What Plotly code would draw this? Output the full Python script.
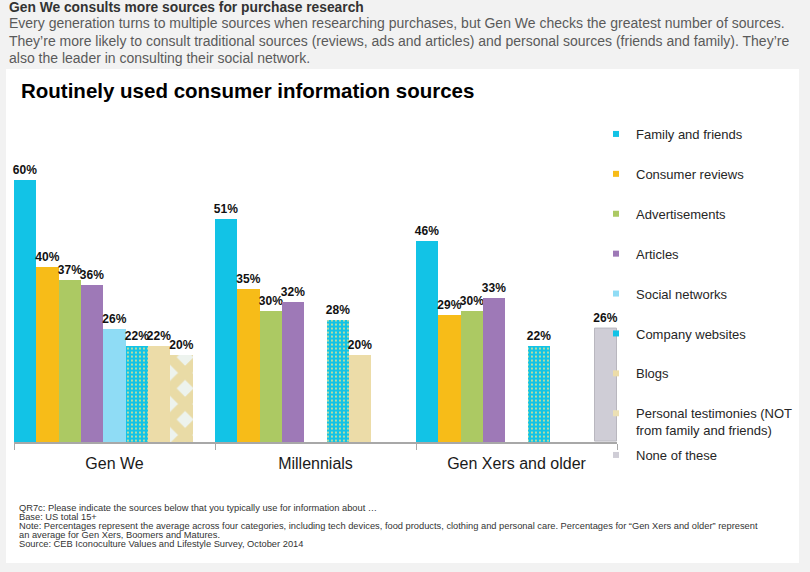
import plotly.graph_objects as go

W, H = 810, 572

categories = ["Gen We", "Millennials", "Gen Xers and older"]

series_names = [
    "Family and friends",
    "Consumer reviews",
    "Advertisements",
    "Articles",
    "Social networks",
    "Company websites",
    "Blogs",
    "Personal testimonies (NOT<br>from family and friends)",
    "None of these",
]

family_friends = [60, 51, 46]
consumer_reviews = [40, 35, 29]
advertisements = [37, 30, 30]
articles = [36, 32, 33]
social_networks = [26, None, None]
company_websites = [22, 28, 22]
blogs = [22, 20, None]
personal_testimonies = [20, None, None]
none_of_these = [None, None, 26]

series_values = [
    family_friends, consumer_reviews, advertisements, articles,
    social_networks, company_websites, blogs, personal_testimonies, none_of_these,
]

colors = ["#12c3e6", "#f7bc18", "#acc963", "#9e79b7", "#8fdcf5",
          "#12c3e6", "#ecdca8", "#ece0b4", "#cfcdd6"]

header_bold = "Gen We consults more sources for purchase research"
header_lines = [
    "Every generation turns to multiple sources when researching purchases, but Gen We checks the greatest number of sources.",
    "They’re more likely to consult traditional sources (reviews, ads and articles) and personal sources (friends and family). They’re",
    "also the leader in consulting their social network.",
]
chart_title = "Routinely used consumer information sources"
footnotes = [
    "QR7c: Please indicate the sources below that you typically use for information about …",
    "Base: US total 15+",
    "Note: Percentages represent the average across four categories, including tech devices, food products, clothing and personal care. Percentages for “Gen Xers and older” represent",
    "an average for Gen Xers, Boomers and Matures.",
    "Source: CEB Iconoculture Values and Lifestyle Survey, October 2014",
]

FONT = "Liberation Sans, Arial, sans-serif"

def py(p):
    return (H - p) / H

def px(p):
    return p / W

fig = go.Figure()

for i, (name, vals) in enumerate(zip(series_names, series_values)):
    marker = dict(color=colors[i], line=dict(width=0))
    if name == "Company websites":
        marker["pattern"] = dict(shape=".", fgcolor="#f3e48a", bgcolor="#12c3e6",
                                 size=4, solidity=0.18, fillmode="replace")
    elif name.startswith("Personal"):
        marker["pattern"] = dict(shape="x", fgcolor="#e9dba6", bgcolor="#edf3ee",
                                 size=22, solidity=0.7, fillmode="replace")
    elif name == "None of these":
        marker["line"] = dict(width=1, color="#b9b7bf")
    fig.add_trace(go.Bar(
        x=categories, y=vals, name=name, marker=marker,
        texttemplate="%{y}%", textposition="outside",
        textfont=dict(family=FONT, size=12, color="#111111", weight="bold"),
        constraintext="none", cliponaxis=False, showlegend=False,
        hoverinfo="skip",
    ))
    # legend entry (small square swatch)
    fig.add_trace(go.Scatter(
        x=[None], y=[None], mode="markers", name=name,
        marker=dict(symbol="square", size=6, color=colors[i]),
        legendgroup=f"g{i}",
        legend="legend2" if name == "None of these" else "legend",
        showlegend=True, hoverinfo="skip",
    ))

annotations = []
annotations.append(dict(text=f"<b>{header_bold}</b>", x=px(7), y=py(8), xref="paper", yref="paper",
                        xanchor="left", yanchor="middle", showarrow=False,
                        font=dict(family=FONT, size=13.8, color="#333333")))
for k, line in enumerate(header_lines):
    annotations.append(dict(text=line, x=px(7), y=py(23 + 17.5 * k), xref="paper", yref="paper",
                            xanchor="left", yanchor="middle", showarrow=False,
                            font=dict(family=FONT, size=14.0, color="#5a5a5a")))
annotations.append(dict(text=f"<b>{chart_title}</b>", x=px(19), y=py(91), xref="paper", yref="paper",
                        xanchor="left", yanchor="middle", showarrow=False,
                        font=dict(family=FONT, size=20.5, color="#000000")))
for k, line in enumerate(footnotes):
    annotations.append(dict(text=line, x=px(17), y=py(508 + 9 * k), xref="paper", yref="paper",
                            xanchor="left", yanchor="middle", showarrow=False,
                            font=dict(family=FONT, size=9.3, color="#333333")))

fig.update_layout(
    width=W, height=H, autosize=False,
    margin=dict(l=0, r=0, t=0, b=0, pad=0),
    paper_bgcolor="#f2f2f2", plot_bgcolor="rgba(0,0,0,0)",
    barmode="group", bargap=0, bargroupgap=0,
    font=dict(family=FONT),
    shapes=[dict(type="rect", xref="paper", yref="paper", layer="below",
                 x0=px(6), x1=px(799), y0=py(563), y1=py(69),
                 fillcolor="#ffffff", line=dict(width=0))],
    annotations=annotations,
    xaxis=dict(domain=[px(14), px(617)], type="category",
               showline=True, linecolor="#a8a8a8", linewidth=2,
               ticks="outside", tickson="boundaries", ticklen=6, tickcolor="#a8a8a8",
               tickwidth=1, showgrid=False, ticklabelstandoff=6,
               tickfont=dict(family=FONT, size=16, color="#1a1a1a")),
    yaxis=dict(domain=[py(442), py(442 - 62 * 4.378)], range=[0, 62],
               visible=False, showgrid=False, zeroline=False),
    legend=dict(x=px(596), y=py(119), xanchor="left", yanchor="top",
                bgcolor="rgba(0,0,0,0)", tracegroupgap=20, valign="top",
                font=dict(family=FONT, size=13, color="#262626"),
                itemclick=False, itemdoubleclick=False),
    legend2=dict(x=px(596), y=py(440), xanchor="left", yanchor="top",
                 bgcolor="rgba(0,0,0,0)", valign="top",
                 font=dict(family=FONT, size=13, color="#262626"),
                 itemclick=False, itemdoubleclick=False),
)

fig.write_html("out.html")
